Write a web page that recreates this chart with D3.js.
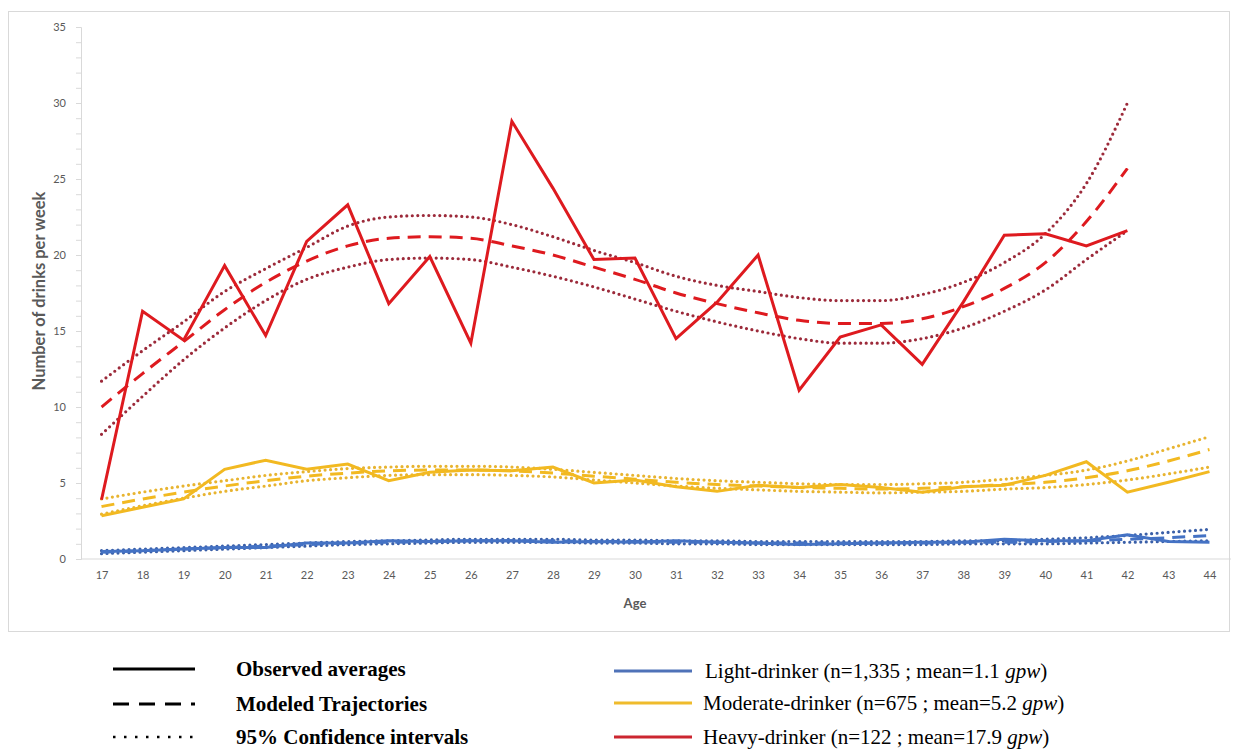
<!DOCTYPE html>
<html>
<head>
<meta charset="utf-8">
<script src="https://cdn.jsdelivr.net/npm/d3@7"></script>
<style>
  body { margin: 0; background: #fff; }
  svg { display: block; }
</style>
</head>
<body>
<div id="chart"></div>
<script>
// ages on the category axis
const ages = d3.range(17, 45);
const yTicks = [0, 5, 10, 15, 20, 25, 30, 35];

// light drinkers
const lightObserved = [0.5, 0.55, 0.65, 0.75, 0.75, 1.05, 1.05, 1.2, 1.15, 1.2, 1.2, 1.1, 1.15, 1.1,
  1.2, 1.1, 1.05, 0.95, 1.0, 1.05, 1.1, 1.1, 1.3, 1.2, 1.2, 1.6, 1.15, 1.1];
const lightModel = [0.45, 0.55, 0.65, 0.75, 0.85, 0.95, 1.05, 1.1, 1.15, 1.2, 1.2, 1.2, 1.15, 1.15,
  1.1, 1.1, 1.05, 1.05, 1.05, 1.05, 1.05, 1.1, 1.1, 1.15, 1.2, 1.3, 1.4, 1.55];
const lightUpper = [0.55, 0.65, 0.75, 0.85, 0.95, 1.05, 1.15, 1.2, 1.25, 1.3, 1.3, 1.3, 1.25, 1.25,
  1.2, 1.2, 1.15, 1.15, 1.15, 1.15, 1.15, 1.2, 1.2, 1.3, 1.4, 1.55, 1.75, 1.95];
const lightLower = [0.35, 0.45, 0.55, 0.65, 0.75, 0.85, 0.95, 1.0, 1.05, 1.1, 1.1, 1.1, 1.05, 1.05,
  1.0, 1.0, 0.95, 0.95, 0.95, 0.95, 0.95, 1.0, 1.0, 1.0, 1.05, 1.1, 1.15, 1.2];

// moderate drinkers
const modObserved = [2.85, 3.4, 3.95, 5.9, 6.5, 5.9, 6.25, 5.15, 5.7, 5.85, 5.8, 6.05, 5.0, 5.2,
  4.75, 4.45, 4.85, 4.7, 4.9, 4.7, 4.4, 4.75, 4.85, 5.5, 6.4, 4.4, 5.05, 5.75];
const modModel = [3.45, 3.95, 4.4, 4.8, 5.15, 5.45, 5.65, 5.8, 5.85, 5.85, 5.8, 5.65, 5.45, 5.25,
  5.05, 4.9, 4.8, 4.7, 4.65, 4.6, 4.65, 4.75, 4.9, 5.05, 5.35, 5.8, 6.45, 7.2];
const modUpper = [3.95, 4.4, 4.8, 5.15, 5.5, 5.75, 5.95, 6.05, 6.1, 6.1, 6.05, 5.9, 5.7, 5.5,
  5.3, 5.15, 5.05, 4.95, 4.9, 4.9, 4.95, 5.05, 5.25, 5.5, 5.85, 6.45, 7.25, 8.05];
const modLower = [2.95, 3.5, 4.0, 4.45, 4.8, 5.15, 5.35, 5.5, 5.55, 5.55, 5.5, 5.4, 5.2, 5.0,
  4.8, 4.65, 4.55, 4.45, 4.4, 4.35, 4.4, 4.45, 4.6, 4.7, 4.9, 5.2, 5.6, 6.05];

// heavy drinkers (ages 17 to 42)
const heavyObserved = [3.9, 16.3, 14.4, 19.3, 14.7, 20.9, 23.3, 16.8, 19.9, 14.2, 28.8, 24.4, 19.7, 19.8,
  14.5, 16.9, 20.0, 11.1, 14.6, 15.4, 12.8, 16.9, 21.3, 21.4, 20.6, 21.6];
const heavyModel = [10.0, 12.2, 14.3, 16.4, 18.2, 19.6, 20.6, 21.1, 21.2, 21.1, 20.6, 20.0, 19.2, 18.4,
  17.5, 16.8, 16.2, 15.7, 15.5, 15.5, 15.8, 16.6, 17.8, 19.5, 22.2, 25.7];
const heavyUpper = [11.7, 13.7, 15.6, 17.6, 19.1, 20.5, 21.9, 22.5, 22.6, 22.5, 22.0, 21.2, 20.3, 19.5,
  18.6, 18.0, 17.6, 17.2, 17.0, 17.0, 17.4, 18.2, 19.5, 21.4, 24.7, 30.0];
const heavyLower = [8.2, 10.7, 13.1, 15.2, 17.0, 18.4, 19.2, 19.7, 19.8, 19.7, 19.2, 18.6, 17.9, 17.1,
  16.3, 15.6, 15.0, 14.5, 14.2, 14.2, 14.5, 15.2, 16.3, 17.7, 19.7, 21.6];

const styleLabels = ["Observed averages", "Modeled Trajectories", "95% Confidence intervals"];
const groupLabels = [
  ["Light-drinker (n=1,335 ; mean=1.1 ", "gpw", ")"],
  ["Moderate-drinker (n=675 ; mean=5.2 ", "gpw", ")"],
  ["Heavy-drinker (n=122 ; mean=17.9 ", "gpw", ")"]
];

const W = 1239, H = 749;
const svg = d3.select("#chart").append("svg")
  .attr("width", W).attr("height", H);

// chart frame
svg.append("rect")
  .attr("x", 8.5).attr("y", 11.5)
  .attr("width", 1221).attr("height", 620)
  .attr("fill", "none").attr("stroke", "#d9d9d9");

const x = d3.scalePoint().domain(ages).range([81, 1230]).padding(0.5);
const y = d3.scaleLinear().domain([0, 35]).range([559, 27]);

const axisFont = "Lato, 'Open Sans', sans-serif";

// y axis: minor ticks every 1, labels every 5
const yMinor = svg.append("g").attr("transform", "translate(81,0)")
  .call(d3.axisLeft(y).tickValues(d3.range(0, 36)).tickSize(5).tickFormat(""));
yMinor.select(".domain").attr("stroke", "#d9d9d9");
yMinor.selectAll(".tick line").attr("stroke", "#d9d9d9");

const yAxis = svg.append("g").attr("transform", "translate(81,0)")
  .call(d3.axisLeft(y).tickValues(yTicks).tickSize(5).tickPadding(10));
yAxis.select(".domain").remove();
yAxis.selectAll(".tick line").attr("stroke", "#d9d9d9");
yAxis.selectAll("text").attr("fill", "#595959")
  .style("font-family", axisFont).style("font-size", "11px");

// x axis
const xAxis = svg.append("g").attr("transform", "translate(0,559)")
  .call(d3.axisBottom(x).tickSize(0).tickPadding(12));
xAxis.select(".domain").attr("stroke", "#d9d9d9").attr("d", "M81,0H1231");
xAxis.selectAll("text").attr("fill", "#595959")
  .style("font-family", axisFont).style("font-size", "11px");

svg.append("text")
  .attr("x", x(30) + 0).attr("y", 608)
  .attr("text-anchor", "middle")
  .attr("fill", "#595959")
  .style("font-family", axisFont).style("font-size", "13px").style("font-weight", "bold")
  .text("Age");

svg.append("text")
  .attr("transform", "translate(45,291) rotate(-90)")
  .attr("text-anchor", "middle")
  .attr("fill", "#595959")
  .style("font-family", axisFont).style("font-size", "16.5px").style("font-weight", "bold")
  .text("Number of drinks per week");

const lineLinear = d3.line().x((d, i) => x(ages[i])).y(d => y(d));
const lineSmooth = d3.line().x((d, i) => x(ages[i])).y(d => y(d)).curve(d3.curveMonotoneX);

const groups = [
  { obs: lightObserved, model: lightModel, up: lightUpper, low: lightLower, color: "#4472c4", dot: "#3a5fa8" },
  { obs: modObserved, model: modModel, up: modUpper, low: modLower, color: "#f2b921", dot: "#e8b430" },
  { obs: heavyObserved, model: heavyModel, up: heavyUpper, low: heavyLower, color: "#de1a1f", dot: "#9c2a3a" }
];

const plot = svg.append("g");
groups.forEach(g => {
  [g.up, g.low].forEach(s => {
    plot.append("path").attr("d", lineSmooth(s))
      .attr("fill", "none").attr("stroke", g.dot)
      .attr("stroke-width", 3.2).attr("stroke-linecap", "round")
      .attr("stroke-dasharray", "0 5.5");
  });
  plot.append("path").attr("d", lineSmooth(g.model))
    .attr("fill", "none").attr("stroke", g.color)
    .attr("stroke-width", 3).attr("stroke-dasharray", "13 8");
  plot.append("path").attr("d", lineLinear(g.obs))
    .attr("fill", "none").attr("stroke", g.color)
    .attr("stroke-width", 3).attr("stroke-linejoin", "miter");
});

// legend
const legendFont = "'Liberation Serif', 'Times New Roman', serif";
const rowY = [669, 704, 737];
const styleDash = [null, "16 10", "2.5 8.5"];
const left = svg.append("g");
styleLabels.forEach((t, i) => {
  left.append("line")
    .attr("x1", 113).attr("x2", 195).attr("y1", rowY[i]).attr("y2", rowY[i])
    .attr("stroke", "#000").attr("stroke-width", i === 2 ? 2.5 : 3)
    .attr("stroke-dasharray", styleDash[i]);
  left.append("text")
    .attr("x", 236).attr("y", rowY[i]).attr("dy", "0.35em")
    .style("font-family", legendFont).style("font-size", "21px").style("font-weight", "bold")
    .text(t);
});

const legendColors = ["#4f72b8", "#efbb2c", "#cc2630"];
const right = svg.append("g");
groupLabels.forEach((parts, i) => {
  const yy = [671, 703, 737][i];
  right.append("line")
    .attr("x1", 614).attr("x2", 692).attr("y1", yy).attr("y2", yy)
    .attr("stroke", legendColors[i]).attr("stroke-width", 3);
  const t = right.append("text")
    .attr("x", i === 0 ? 705 : 703).attr("y", yy).attr("dy", "0.35em")
    .style("font-family", legendFont).style("font-size", "21px");
  t.append("tspan").text(parts[0]);
  t.append("tspan").style("font-style", "italic").text(parts[1]);
  t.append("tspan").text(parts[2]);
});
</script>
</body>
</html>
